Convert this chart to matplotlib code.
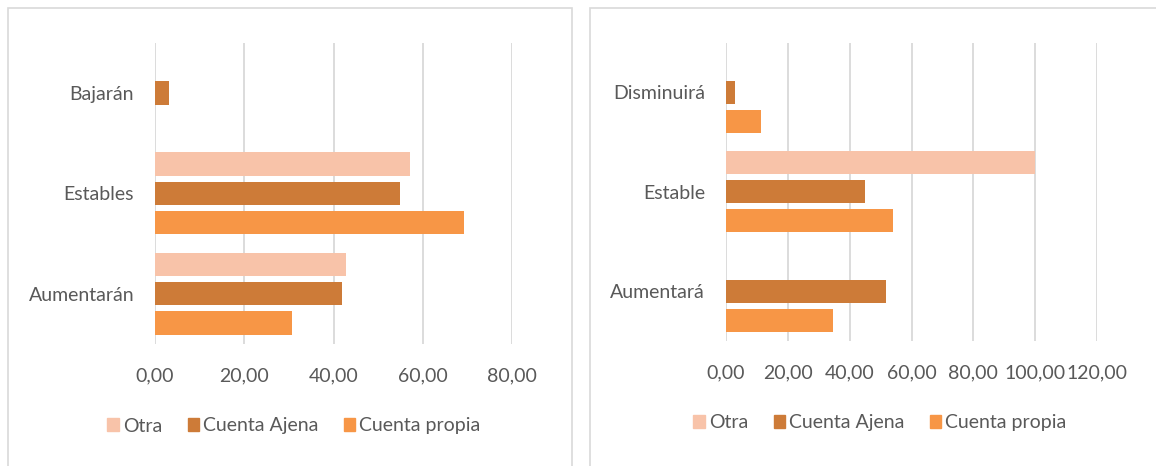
import matplotlib
matplotlib.use("Agg")
import matplotlib.pyplot as plt
from matplotlib.patches import Rectangle, Patch
from matplotlib.ticker import FuncFormatter, MultipleLocator
import numpy as np

# left chart: ingresos
left_cats = ["Aumentarán", "Estables", "Bajarán"]
left_otra = [42.9, 57.2, 0]
left_ajena = [42.0, 55.0, 3.2]
left_propia = [30.8, 69.2, 0]

# right chart
right_cats = ["Aumentará", "Estable", "Disminuirá"]
right_otra = [0, 100.0, 0]
right_ajena = [51.7, 45.1, 3.0]
right_propia = [34.7, 54.1, 11.4]

series_names = ["Otra", "Cuenta Ajena", "Cuenta propia"]
colors = {"Otra": "#F8C3A9", "Cuenta Ajena": "#CD7B38", "Cuenta propia": "#F79646"}

plt.rcParams['font.family'] = ['Lato', 'DejaVu Sans']
text_color = "#595959"
grid_color = "#D9D9D9"
fsize = 14

W, H = 1156, 466
fig = plt.figure(figsize=(W / 100, H / 100), dpi=100)

# panel frames (bottom and right edges run off the picture)
fig.add_artist(Rectangle((7.5 / W, -0.05), (571.5 - 7.5) / W, 1.05 - 7.5 / H,
                         transform=fig.transFigure, fill=False,
                         edgecolor=grid_color, lw=1.2))
fig.add_artist(Rectangle((590 / W, -0.05), 0.6, 1.05 - 7.5 / H,
                         transform=fig.transFigure, fill=False,
                         edgecolor=grid_color, lw=1.2))


def draw_panel(rect, cats, otra, ajena, propia, xmax, legend_xy):
    ax = fig.add_axes(rect)
    y = np.arange(len(cats))
    h = 0.232
    off = 0.292
    ax.barh(y + off, otra, height=h, color=colors["Otra"], zorder=3)
    ax.barh(y, ajena, height=h, color=colors["Cuenta Ajena"], zorder=3)
    ax.barh(y - off, propia, height=h, color=colors["Cuenta propia"], zorder=3)

    ax.set_xlim(0, xmax)
    ax.set_ylim(-0.5, len(cats) - 0.5)
    ax.xaxis.set_major_locator(MultipleLocator(20))
    ax.xaxis.set_major_formatter(FuncFormatter(lambda v, p: f"{v:.2f}".replace(".", ",")))
    ax.set_yticks(y)
    ax.set_yticklabels(cats)
    ax.grid(axis="x", color=grid_color, lw=1.3, zorder=0)
    ax.set_axisbelow(True)
    for s in ax.spines.values():
        s.set_visible(False)
    ax.tick_params(axis="both", length=0, labelsize=fsize, labelcolor=text_color)
    ax.tick_params(axis="x", pad=17)
    ax.tick_params(axis="y", pad=15)

    handles = [Patch(color=colors[n]) for n in series_names]
    leg = fig.legend(handles, series_names, loc="center",
                     bbox_to_anchor=legend_xy, ncol=3, frameon=False,
                     fontsize=fsize, handlelength=0.6, handleheight=0.6,
                     handletextpad=0.2, columnspacing=1.3)
    for t in leg.get_texts():
        t.set_color(text_color)
    return ax


draw_panel([155 / W, 1 - 344 / H, 357 / W, 301.3 / H],
           left_cats, left_otra, left_ajena, left_propia, 80,
           (294 / W, 1 - 426 / H))
draw_panel([726 / W, 1 - 341 / H, 371 / W, 298.3 / H],
           right_cats, right_otra, right_ajena, right_propia, 120,
           (880 / W, 1 - 422.7 / H))

fig.savefig("out.png", dpi=100)
